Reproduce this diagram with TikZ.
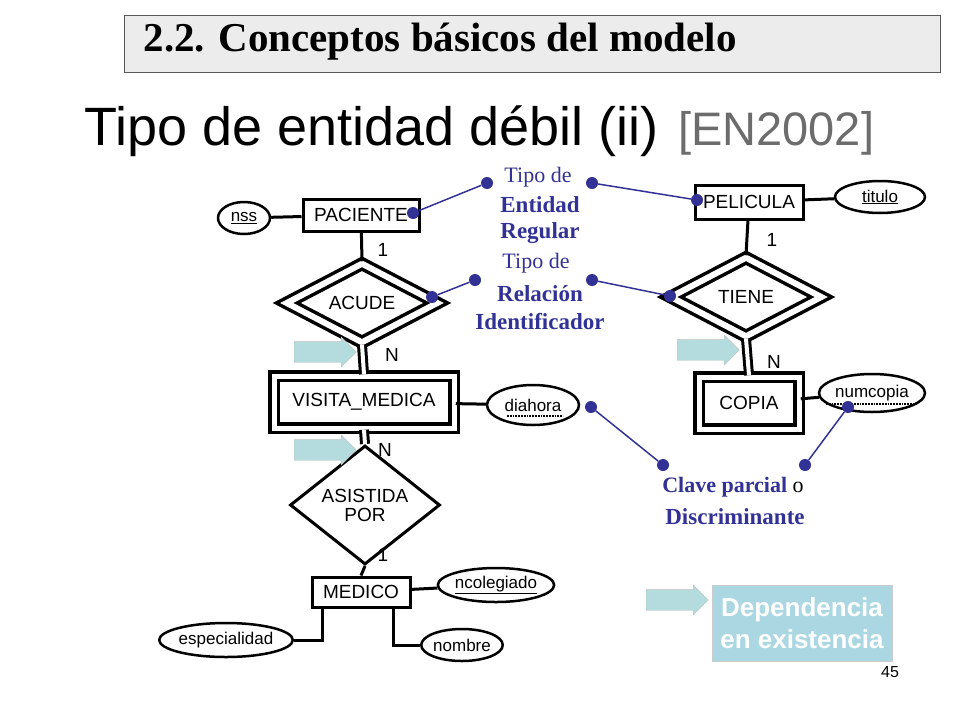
\documentclass[tikz,border=0pt]{standalone}
\usepackage{fontspec}
\setmainfont{Liberation Serif}
\setsansfont{Liberation Sans}
\usetikzlibrary{shapes.geometric,shapes.arrows,positioning}
\definecolor{navy}{RGB}{50,50,150}
\definecolor{hint}{RGB}{180,220,222}
\definecolor{depbox}{RGB}{170,215,225}
\tikzset{
  ent/.style={draw, line width=3pt, minimum height=32pt, inner sep=4pt, font=\sffamily\fontsize{19}{19}\selectfont},
  weakent/.style={ent, double, line width=3.5pt, double distance=5pt},
  rel/.style={draw, diamond, line width=3pt, inner sep=0pt, minimum width=150pt, minimum height=82pt, font=\sffamily\fontsize{19}{19}\selectfont, align=center},
  idrel/.style={rel, double, line width=3.5pt, double distance=6pt, minimum width=152pt, minimum height=80pt},
  attr/.style={draw, ellipse, line width=2.5pt, inner sep=0pt, font=\sffamily\fontsize{17}{17}\selectfont},
  card/.style={font=\sffamily\fontsize{19}{19}\selectfont},
  note/.style={text=navy, font=\fontsize{23}{23}\selectfont\bfseries},
  dot/.style={circle, fill=navy, inner sep=0pt, minimum size=12pt},
  pin/.style={navy, line width=1.5pt},
  link/.style={line width=3pt},
  idlink/.style={line width=3pt, double, double distance=4pt},
  hintarrow/.style={single arrow, draw=gray!50, fill=hint, minimum width=30pt, inner ysep=9pt, inner xsep=0pt, single arrow head extend=4pt, single arrow head indent=0pt, minimum height=62pt}
}
\begin{document}
\begin{tikzpicture}[x=1pt,y=-1pt]
        \useasboundingbox (0,0) rectangle (960,720);
        % header
        \node[draw=gray!70!black, fill=gray!15, minimum width=816pt, minimum height=57pt, anchor=north west] (head) at (124,15) {};
        \node[anchor=west, font=\fontsize{41}{41}\selectfont\bfseries] (headtxt) at (140,42) {2.2. Conceptos básicos del modelo};
        \node[anchor=base west, inner sep=0pt, font=\sffamily\fontsize{54}{54}\selectfont] (title) at (84,145) {Tipo de entidad débil (ii)};
        \node[anchor=base west, inner sep=0pt, text=gray!85!black, font=\sffamily\fontsize{47}{47}\selectfont] (ref) at (678,145) {[EN2002]};

        % left schema
        \node[ent, minimum width=116pt] (pac) at (361,215) {PACIENTE};
        \node[attr, minimum width=52pt, minimum height=32pt] (nss) at (244,218) {\underline{nss}};
        \node[idrel] (acude) at (362,303) {ACUDE};
        \node[weakent, minimum width=180pt, minimum height=52pt] (visita) at (364,402) {VISITA\_MEDICA};
        \node[attr, minimum width=92pt, minimum height=40pt] (diahora) at (533,405) {diahora};
        \draw[densely dotted, line width=1.8pt] (507,416) -- (563,416);
        \node[rel] (asist) at (365,505) {ASISTIDA\\POR};
        \node[ent, minimum width=98pt, minimum height=30pt] (medico) at (361,592) {MEDICO};
        \node[attr, minimum width=112pt, minimum height=34pt] (ncol) at (496,585) {\underline{ncolegiado}};
        \node[attr, minimum width=114pt, minimum height=34pt] (espec) at (226,640) {especialidad};
        \node[attr, minimum width=78pt, minimum height=32pt] (nombre) at (462,645) {nombre};

        \draw[link] (nss) -- (pac);
        \draw[link] (pac) -- (acude.north);
        \draw[idlink] (acude.south) -- (visita.north);
        \draw[link] (visita) -- (diahora);
        \draw[idlink] (visita.south) -- (asist.north);
        \draw[link] (asist.south) -- (medico.north);
        \draw[link] (medico) -- (ncol);
        \draw[link] (medico.south -| 322,0) |- (espec.east);
        \draw[link] (medico.south -| 393,0) |- (nombre.west);
        \node[card] (c1) at (383,250) {1};
        \node[card] (c2) at (392,355) {N};
        \node[card] (c3) at (385,450) {N};
        \node[card] (c4) at (383,555) {1};
        \node[hintarrow] (h1) at (320,352) {};
        \node[hintarrow] (h2) at (320,450) {};

        % right schema
        \node[ent, minimum width=108pt, minimum height=34pt] (peli) at (749,202) {PELICULA};
        \node[attr, minimum width=90pt, minimum height=32pt] (titulo) at (880,197) {\underline{titulo}};
        \node[idrel] (tiene) at (746,297) {TIENE};
        \node[weakent, minimum width=100pt, minimum height=52pt] (copia) at (749,403) {COPIA};
        \node[attr, minimum width=106pt, minimum height=38pt] (numc) at (872,393) {numcopia};
        \draw[densely dotted, line width=1.8pt] (826,404) -- (918,404);
        \draw[link] (peli) -- (titulo);
        \draw[link] (peli) -- (tiene.north);
        \draw[idlink] (tiene.south) -- (copia.north);
        \draw[link] (copia) -- (numc);
        \node[card] (c5) at (772,240) {1};
        \node[card] (c6) at (774,362) {N};
        \node[hintarrow] (h3) at (703,350) {};

        % notes
        \node[text=navy, font=\fontsize{22}{22}\selectfont] (n1) at (538,177) {Tipo de};
        \node[note] (n2) at (540,205) {Entidad};
        \node[note] (n3) at (540,233) {Regular};
        \node[text=navy, font=\fontsize{22}{22}\selectfont] (n4) at (536,263) {Tipo de};
        \node[note] (n5) at (540,294) {Relación};
        \node[note] (n6) at (540,322) {Identificador};
        \node[font=\fontsize{22}{22}\selectfont] (n7) at (733,487) {\textcolor{navy}{\bfseries Clave parcial} o};
        \node[note] (n8) at (735,517) {Discriminante};

        \node[dot] (d1) at (487,183) {};
        \node[dot] (d2) at (413,213) {};
        \node[dot] (d3) at (592,183) {};
        \node[dot] (d4) at (697,200) {};
        \node[dot] (d5) at (475,280) {};
        \node[dot] (d6) at (432,297) {};
        \node[dot] (d7) at (592,280) {};
        \node[dot] (d8) at (670,296) {};
        \node[dot] (d9) at (591,407) {};
        \node[dot] (d10) at (663,465) {};
        \node[dot] (d11) at (848,407) {};
        \node[dot] (d12) at (805,465) {};
        \draw[pin] (d1) -- (d2);
        \draw[pin] (d3) -- (d4);
        \draw[pin] (d5) -- (d6);
        \draw[pin] (d7) -- (d8);
        \draw[pin] (d9) -- (d10);
        \draw[pin] (d11) -- (d12);

        % legend
        \node[hintarrow] (h4) at (672,600) {};
        \node[fill=depbox, draw=gray!40, minimum width=180pt, minimum height=76pt, align=center, text=white, font=\sffamily\bfseries\fontsize{26}{32}\selectfont] (dep) at (802,623) {Dependencia\\en existencia};
        \node[font=\sffamily\fontsize{16}{16}\selectfont] (page) at (890,672) {45};
    \end{tikzpicture}
\end{document}
